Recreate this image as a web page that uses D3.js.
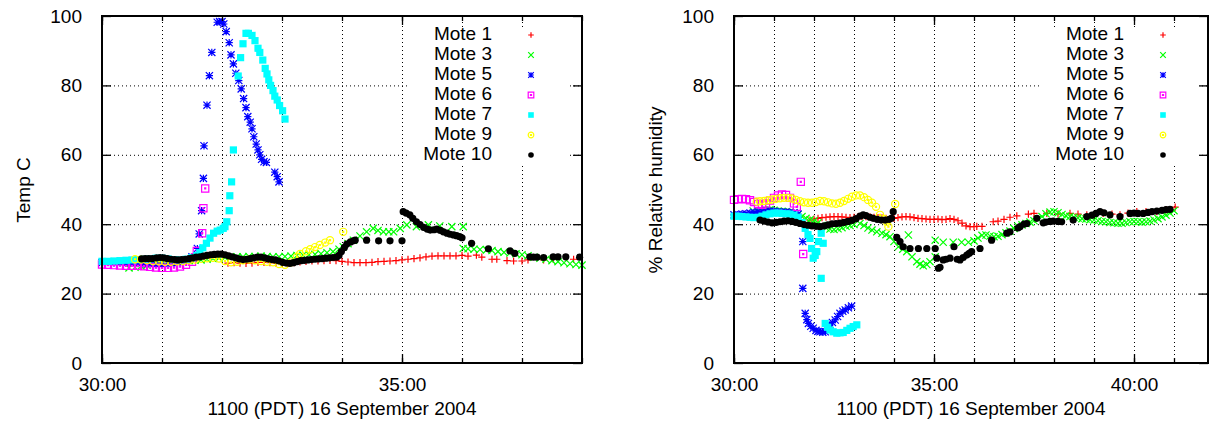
<!DOCTYPE html>
<html>
<head>
<meta charset="utf-8">
<script src="https://cdn.jsdelivr.net/npm/d3@7"></script>
<style>
  body { margin: 0; background: #fff; }
  text { font-family: "Liberation Sans", Arial, sans-serif; font-size: 19px; fill: #000; }
</style>
</head>
<body>
<div id="chart"></div>
<script>
// legend names, one per mote
const moteNames = ["Mote 1", "Mote 3", "Mote 5", "Mote 6", "Mote 7", "Mote 9", "Mote 10"];
const yTicks = [0, 20, 40, 60, 80, 100];

// temperature, [minute past 11:00, deg C]
const tempMote1 = [[32.1,28.8],[32.2,28.9],[32.3,28.8],[32.4,28.7],[32.5,28.8],[32.6,29.0],[32.7,29.0],[32.8,28.9],[32.9,28.8],[33.0,28.6],[33.1,28.7],[33.2,28.9],[33.3,29.1],[33.4,29.3],[33.5,29.4],[33.6,29.4],[33.7,29.5],[33.8,29.6],[33.9,29.5],[34.0,29.3],[34.1,29.1],[34.2,28.9],[34.3,28.9],[34.4,28.9],[34.5,29.0],[34.6,29.2],[34.7,29.3],[34.8,29.4],[34.9,29.5],[35.0,29.7],[35.1,29.9],[35.2,30.1],[35.3,30.3],[35.4,30.6],[35.5,30.8],[35.6,30.9],[35.7,30.9],[35.8,30.9],[35.9,30.9],[36.0,31.0],[36.1,30.8],[36.24,31.1],[36.33,30.5],[36.5,29.9],[36.58,29.9],[36.75,29.5],[36.86,29.4],[37.0,29.4],[37.1,29.7],[37.36,29.7],[37.52,29.9],[37.86,29.9]];
const tempMote3 = [[30.45,27.4],[30.55,27.6],[30.65,27.9],[30.75,28.2],[30.85,28.5],[30.95,28.8],[31.05,29.0],[31.15,29.2],[31.25,29.3],[31.35,29.4],[31.45,29.5],[31.55,29.6],[31.65,29.7],[31.75,29.9],[31.85,30.1],[31.95,30.3],[32.05,30.4],[32.15,30.5],[32.25,30.6],[32.35,30.6],[32.45,30.7],[32.55,30.7],[32.65,30.8],[32.75,30.7],[32.85,30.6],[32.95,30.6],[33.05,30.7],[33.15,30.8],[33.25,31.0],[33.35,31.1],[33.45,31.2],[33.55,31.3],[33.65,31.5],[33.75,31.8],[33.85,32.1],[33.95,32.8],[34.02,33.5],[34.1,34.4],[34.19,35.4],[34.3,36.6],[34.41,37.8],[34.52,38.8],[34.6,38.2],[34.69,37.8],[34.78,37.8],[34.86,37.8],[34.97,38.8],[35.08,39.8],[35.24,39.3],[35.44,39.8],[35.63,39.5],[35.83,39.3],[36.02,39.3],[36.02,33.0],[36.1,32.9],[36.2,32.8],[36.3,32.7],[36.41,32.6],[36.5,32.4],[36.6,32.1],[36.7,31.9],[36.8,31.7],[36.9,31.5],[37.0,31.2],[37.1,30.9],[37.2,30.5],[37.3,30.2],[37.4,29.9],[37.5,29.5],[37.6,29.2],[37.7,28.9],[37.8,28.6],[37.9,28.4],[38.0,28.2]];
const tempMote5 = [[30.0,28.9],[30.1,28.9],[30.2,28.8],[30.3,28.8],[30.4,28.7],[30.5,28.7],[30.6,28.6],[30.7,28.5],[30.8,28.4],[30.9,28.3],[31.0,28.3],[31.1,28.4],[31.2,28.6],[31.3,28.9],[31.4,29.4],[31.5,30.6],[31.59,33.0],[31.62,37.2],[31.66,43.9],[31.69,53.2],[31.70,62.6],[31.75,74.3],[31.79,82.8],[31.83,89.5],[31.92,98.2],[31.96,98.4],[32.0,98.4],[32.03,97.7],[32.07,95.5],[32.12,92.3],[32.15,88.8],[32.19,86.2],[32.23,83.5],[32.28,81.4],[32.32,79.0],[32.36,76.2],[32.4,73.6],[32.43,71.0],[32.47,69.4],[32.5,67.5],[32.53,65.2],[32.57,63.1],[32.6,61.4],[32.63,60.0],[32.66,58.7],[32.7,58.0],[32.74,57.8],[32.88,55.0],[32.92,53.7],[32.95,52.2]];
const tempMote6 = [[30.0,28.4],[30.1,28.3],[30.2,28.2],[30.3,28.1],[30.4,28.0],[30.5,28.0],[30.6,28.0],[30.7,27.9],[30.8,27.7],[30.9,27.5],[31.0,27.4],[31.1,27.4],[31.2,27.5],[31.3,27.8],[31.4,28.3],[31.5,29.2],[31.55,30.5],[31.58,32.3],[31.67,37.4],[31.69,44.6],[31.72,50.3]];
const tempMote7 = [[30.0,29.3],[30.1,29.3],[30.2,29.4],[30.3,29.5],[30.4,29.6],[30.5,29.7],[30.6,29.8],[30.7,29.9],[30.8,30.0],[30.9,30.2],[31.0,30.2],[31.1,30.0],[31.2,29.8],[31.3,29.7],[31.4,29.9],[31.5,30.4],[31.58,31.0],[31.63,31.8],[31.68,33.2],[31.74,34.5],[31.8,36.0],[31.86,37.4],[31.92,38.0],[31.97,38.3],[32.02,38.8],[32.05,39.3],[32.08,40.7],[32.12,43.9],[32.13,48.2],[32.16,52.2],[32.19,61.4],[32.27,82.7],[32.31,88.0],[32.35,92.0],[32.4,95.0],[32.44,95.0],[32.5,94.4],[32.55,92.9],[32.6,90.7],[32.63,89.5],[32.68,87.3],[32.72,84.9],[32.75,83.3],[32.78,81.6],[32.81,80.0],[32.85,78.5],[32.88,76.9],[32.92,75.8],[32.96,74.2],[33.01,72.7],[33.05,70.3]];
const tempMote9 = [[30.55,29.9],[30.65,29.8],[30.75,29.6],[30.85,29.4],[30.95,29.3],[31.05,29.2],[31.15,29.2],[31.25,29.3],[31.35,29.4],[31.45,29.6],[31.55,29.8],[31.65,30.0],[31.75,30.2],[31.85,30.3],[31.95,30.1],[32.05,29.4],[32.15,29.0],[32.25,29.2],[32.35,29.6],[32.45,29.8],[32.55,29.6],[32.65,29.4],[32.75,29.2],[32.85,29.0],[32.95,28.5],[33.05,28.3],[33.15,29.0],[33.25,30.6],[33.3,31.4],[33.4,32.2],[33.47,32.8],[33.55,33.4],[33.63,34.0],[33.72,34.7],[33.8,35.4],[34.02,37.8]];
const tempMote10 = [[30.66,30.0],[30.72,30.1],[30.78,30.1],[30.84,30.1],[30.91,30.3],[30.97,30.4],[31.03,30.3],[31.09,30.1],[31.15,29.9],[31.21,29.8],[31.27,29.7],[31.33,29.8],[31.39,29.9],[31.45,30.1],[31.51,30.3],[31.57,30.5],[31.63,30.6],[31.69,30.8],[31.75,31.0],[31.81,31.2],[31.87,31.3],[31.93,31.4],[31.99,31.4],[32.05,31.2],[32.11,30.9],[32.17,30.6],[32.23,30.3],[32.29,30.0],[32.35,29.8],[32.41,29.9],[32.47,30.1],[32.53,30.3],[32.59,30.5],[32.65,30.5],[32.71,30.3],[32.77,30.0],[32.83,29.8],[32.89,29.7],[32.95,29.4],[33.01,29.0],[33.07,28.8],[33.13,28.7],[33.19,28.9],[33.25,29.2],[33.31,29.5],[33.37,29.6],[33.43,29.7],[33.49,29.8],[33.55,29.9],[33.61,30.0],[33.67,30.1],[33.73,30.2],[33.79,30.3],[33.85,30.4],[33.91,30.5],[33.95,31.0],[33.99,32.1],[34.04,33.3],[34.08,34.3],[34.14,34.9],[34.19,35.2],[34.22,35.4],[34.41,35.4],[34.61,35.2],[34.8,35.2],[35.0,35.2],[35.02,43.6],[35.07,43.2],[35.13,42.7],[35.18,41.7],[35.24,40.7],[35.3,39.9],[35.36,39.1],[35.42,38.6],[35.47,38.3],[35.53,38.4],[35.58,38.6],[35.64,38.2],[35.69,37.8],[35.75,37.4],[35.8,37.1],[35.86,36.9],[35.91,36.7],[35.96,36.4],[36.0,36.1],[36.16,34.5],[36.44,32.9],[36.8,32.3],[36.88,31.6],[37.13,30.6],[37.19,30.5],[37.25,30.5],[37.36,30.4],[37.52,30.6],[37.6,30.6],[37.73,30.6],[37.96,30.5]];

// relative humidity, [minute past 11:00, %]
const humMote1 = [[31.9,41.2],[32.0,41.5],[32.1,41.7],[32.2,41.9],[32.3,42.0],[32.4,42.1],[32.5,42.2],[32.6,42.2],[32.7,42.1],[32.8,42.0],[32.9,41.9],[33.0,42.0],[33.1,42.1],[33.2,42.2],[33.3,42.2],[33.4,42.1],[33.5,42.0],[33.6,41.9],[33.7,41.8],[33.8,41.7],[33.9,41.6],[34.0,41.7],[34.1,41.9],[34.2,42.1],[34.3,42.2],[34.4,42.1],[34.5,41.9],[34.6,41.7],[34.7,41.6],[34.8,41.5],[34.9,41.4],[35.0,41.4],[35.1,41.5],[35.2,41.3],[35.3,41.4],[35.4,41.6],[35.5,41.4],[35.6,41.0],[35.7,40.3],[35.8,39.5],[35.9,39.3],[36.0,39.3],[36.07,39.4],[36.2,39.4],[36.48,40.7],[36.6,40.9],[36.75,41.4],[36.9,42.0],[37.07,42.4],[37.36,42.9],[37.5,43.1],[37.82,43.1],[38.1,43.0],[38.4,43.1],[38.6,42.9],[38.82,42.7],[39.0,42.8],[39.23,43.1],[39.45,42.9],[39.65,42.7],[39.85,43.2],[40.07,43.6],[40.3,43.6],[40.57,43.6],[40.8,44.2],[41.03,44.9]];
const humMote3 = [[30.48,43.8],[30.6,43.9],[30.7,44.0],[30.8,44.1],[30.9,44.2],[31.0,44.0],[31.1,43.8],[31.2,43.7],[31.3,43.6],[31.4,43.5],[31.5,43.3],[31.6,42.8],[31.7,42.2],[31.8,41.7],[31.9,41.3],[32.0,41.0],[32.1,40.4],[32.2,39.6],[32.3,38.9],[32.4,38.6],[32.5,38.5],[32.6,38.7],[32.7,39.0],[32.8,39.4],[32.9,39.6],[33.0,39.9],[33.15,40.2],[33.25,39.6],[33.35,38.9],[33.45,38.3],[33.57,37.8],[33.7,37.4],[33.8,37.0],[33.9,36.4],[34.0,35.0],[34.11,33.5],[34.22,32.8],[34.32,32.1],[34.45,30.6],[34.57,29.2],[34.65,28.5],[34.73,28.0],[34.82,28.4],[34.9,29.2],[35.03,30.6],[34.36,36.9],[35.03,35.4],[35.23,34.8],[35.48,34.8],[35.69,34.8],[35.86,34.8],[36.0,35.2],[36.1,36.0],[36.2,36.8],[36.3,36.9],[36.4,36.6],[36.5,36.4],[36.6,36.5],[36.7,37.0],[36.8,37.5],[36.9,38.0],[37.0,38.8],[37.1,39.4],[37.2,39.8],[37.3,40.2],[37.4,40.6],[37.5,41.0],[37.6,41.5],[37.7,42.2],[37.8,43.0],[37.9,43.5],[38.0,43.6],[38.1,43.3],[38.2,42.8],[38.3,42.4],[38.4,42.2],[38.5,42.0],[38.6,41.8],[38.7,41.6],[38.8,41.5],[38.9,41.3],[39.0,41.2],[39.1,41.0],[39.2,40.8],[39.3,40.7],[39.4,40.5],[39.5,40.4],[39.6,40.3],[39.7,40.3],[39.8,40.5],[39.9,40.7],[40.0,40.8],[40.1,40.7],[40.2,40.6],[40.3,40.7],[40.4,40.9],[40.5,41.2],[40.6,41.6],[40.7,42.1],[40.8,42.6],[40.9,43.2],[41.0,43.9]];
const humMote5 = [[30.0,42.7],[30.1,42.8],[30.2,42.9],[30.3,43.0],[30.4,43.2],[30.5,43.4],[30.6,43.6],[30.7,43.7],[30.8,43.8],[30.9,43.8],[31.0,43.7],[31.1,43.6],[31.2,43.5],[31.3,43.5],[31.4,43.4],[31.5,43.3],[31.6,42.9],[31.72,35.0],[31.72,21.5],[31.78,14.3],[31.82,12.5],[31.86,11.4],[31.92,10.6],[31.98,10.0],[32.05,9.4],[32.1,9.1],[32.15,9.0],[32.22,8.9],[32.28,9.0],[32.34,10.0],[32.4,11.0],[32.46,11.7],[32.53,12.4],[32.59,13.4],[32.65,14.3],[32.72,14.9],[32.78,15.3],[32.86,15.9],[32.94,16.4]];
const humMote6 = [[30.0,47.0],[30.1,47.2],[30.2,47.3],[30.3,47.2],[30.4,46.9],[30.5,46.4],[30.6,45.8],[30.7,45.6],[30.8,46.0],[30.9,46.8],[31.0,47.6],[31.1,48.3],[31.2,48.6],[31.3,48.4],[31.4,47.6],[31.5,46.0],[31.57,45.0],[31.67,52.2],[31.73,31.4]];
const humMote7 = [[30.0,42.3],[30.1,42.3],[30.2,42.2],[30.3,42.1],[30.4,42.0],[30.5,41.9],[30.6,42.0],[30.7,42.3],[30.8,42.7],[30.9,43.0],[31.0,43.2],[31.1,43.2],[31.2,43.1],[31.3,43.0],[31.4,42.9],[31.5,42.6],[31.6,42.0],[31.7,40.5],[31.78,38.8],[31.85,37.0],[31.9,35.9],[31.94,33.0],[31.98,30.2],[32.03,31.0],[32.07,32.1],[32.11,35.0],[32.18,37.4],[32.23,34.5],[32.18,24.4],[32.28,11.4],[32.34,10.3],[32.4,9.5],[32.48,9.0],[32.57,8.6],[32.65,8.7],[32.73,8.8],[32.82,9.4],[32.9,10.0],[32.98,10.5],[33.07,11.0]];
const humMote9 = [[30.57,46.5],[30.65,46.6],[30.75,46.7],[30.85,46.9],[30.95,47.1],[31.05,47.3],[31.15,47.5],[31.25,47.6],[31.35,47.6],[31.45,47.4],[31.55,47.0],[31.65,46.6],[31.75,46.3],[31.85,46.2],[31.95,46.2],[32.05,46.4],[32.15,46.7],[32.25,46.6],[32.35,46.3],[32.45,46.0],[32.55,45.9],[32.65,46.2],[32.75,46.7],[32.85,47.3],[32.95,47.9],[33.05,48.3],[33.15,48.3],[33.25,47.8],[33.35,47.0],[33.45,46.2],[33.55,45.0],[33.65,42.7],[33.75,41.5],[33.82,40.7],[33.86,39.3],[34.03,45.8]];
const humMote10 = [[30.65,41.2],[30.75,40.9],[30.85,40.6],[30.95,40.4],[31.05,40.5],[31.15,40.7],[31.25,40.9],[31.35,41.0],[31.45,40.8],[31.55,40.5],[31.65,40.2],[31.75,39.9],[31.85,39.7],[31.95,39.5],[32.05,39.4],[32.15,39.3],[32.25,39.5],[32.35,39.8],[32.45,40.1],[32.55,40.2],[32.65,40.3],[32.75,40.5],[32.85,40.8],[32.95,41.1],[33.05,41.6],[33.15,42.3],[33.23,42.7],[33.3,42.5],[33.4,42.0],[33.48,41.7],[33.58,41.4],[33.68,41.2],[33.78,41.2],[33.88,41.4],[33.94,41.7],[33.98,43.6],[34.07,36.2],[34.15,35.0],[34.23,33.5],[34.4,33.0],[34.61,33.0],[34.82,33.0],[35.03,33.0],[35.07,30.2],[35.11,27.3],[35.15,27.6],[35.23,29.7],[35.3,29.9],[35.4,30.2],[35.5,33.5],[35.58,29.9],[35.65,29.7],[35.73,30.4],[35.82,31.1],[35.88,31.6],[35.94,32.1],[36.15,33.0],[36.44,35.4],[36.82,37.4],[36.9,37.8],[37.1,38.9],[37.15,39.3],[37.25,40.0],[37.32,40.2],[37.57,41.7],[37.73,40.4],[37.8,40.6],[37.9,40.8],[37.98,40.9],[38.1,40.8],[38.19,40.7],[38.48,41.2],[38.82,42.2],[38.95,42.6],[39.05,43.1],[39.15,43.6],[39.25,43.3],[39.4,42.7],[39.65,42.2],[39.9,43.1],[40.0,43.2],[40.1,43.1],[40.23,43.1],[40.35,43.4],[40.45,43.6],[40.57,43.8],[40.7,44.0],[40.8,44.2],[40.9,44.3]];

const styles = [
  { kind: "plus", color: "#ff0000" },
  { kind: "cross", color: "#00ff00" },
  { kind: "star", color: "#0000ff" },
  { kind: "box", color: "#ff00ff" },
  { kind: "fbox", color: "#00ffff" },
  { kind: "circle", color: "#ffff00" },
  { kind: "fcircle", color: "#000000" }
];

const W = 1210, H = 427;
const svg = d3.select("#chart").append("svg")
  .attr("width", W).attr("height", H)
  .attr("viewBox", [0, 0, W, H]);

function markPath(kind, s) {
  switch (kind) {
    case "plus": return `M${-s},0H${s}M0,${-s}V${s}`;
    case "cross": return `M${-s},${-s}L${s},${s}M${-s},${s}L${s},${-s}`;
    case "star": return `M${-s},0H${s}M0,${-s}V${s}M${-s},${-s}L${s},${s}M${-s},${s}L${s},${-s}`;
    case "box": return `M${-s},${-s}H${s}V${s}H${-s}ZM-0.5,-0.5h1v1h-1Z`;
    case "fbox": return `M${-s},${-s}H${s}V${s}H${-s}Z`;
    case "circle": return `M${s},0A${s},${s} 0 1,1 ${-s},0A${s},${s} 0 1,1 ${s},0ZM-0.5,-0.5h1v1h-1Z`;
    case "fcircle": return `M${s},0A${s},${s} 0 1,1 ${-s},0A${s},${s} 0 1,1 ${s},0Z`;
  }
}

function styleMark(sel, st) {
  const filled = st.kind === "fbox" || st.kind === "fcircle";
  sel.attr("fill", filled ? st.color : "none")
    .attr("stroke", filled ? "none" : st.color)
    .attr("stroke-width", 1.2);
}

function drawPanel(p) {
  const x = d3.scaleLinear().domain(p.xDomain).range([p.left, p.right]);
  const y = d3.scaleLinear().domain([0, 100]).range([363, 16]);
  const g = svg.append("g");
  const minutes = d3.range(Math.ceil(p.xDomain[0]), Math.floor(p.xDomain[1]) + 1);
  const majors = minutes.filter(m => m % 5 === 0);

  // dotted grid
  const grid = g.append("g").attr("stroke", "#000").attr("stroke-width", 1)
    .attr("stroke-dasharray", "1,3");
  grid.selectAll(".gx").data(minutes.filter(m => m > p.xDomain[0] && m < p.xDomain[1]))
    .join("line").attr("x1", d => x(d) + 0.5).attr("x2", d => x(d) + 0.5)
    .attr("y1", y(0)).attr("y2", y(100));
  grid.selectAll(".gy").data(yTicks.slice(1, -1))
    .join("line").attr("y1", d => y(d) + 0.5).attr("y2", d => y(d) + 0.5)
    .attr("x1", p.left).attr("x2", p.right);

  // key box hides the grid behind it
  g.append("rect").attr("x", p.keyBox[0]).attr("y", 27)
    .attr("width", p.keyBox[1] - p.keyBox[0]).attr("height", 138).attr("fill", "#fff");

  // data
  p.series.forEach((data, i) => {
    const st = styles[i];
    g.append("g").call(styleMark, st)
      .selectAll("path").data(data).join("path")
      .attr("transform", d => `translate(${x(d[0])},${y(d[1])})`)
      .attr("d", markPath(st.kind, 3.6));
  });

  // axes: ticks inward on all sides
  const fmt = m => `${m}:00`;
  g.append("g").attr("transform", `translate(0,${y(0)})`)
    .call(d3.axisBottom(x).tickValues(minutes).tickSize(-5).tickFormat(""));
  g.append("g").attr("transform", `translate(0,${y(0)})`)
    .call(d3.axisBottom(x).tickValues(majors).tickSize(-9).tickPadding(15).tickFormat(fmt));
  g.append("g").attr("transform", `translate(0,${y(100)})`)
    .call(d3.axisTop(x).tickValues(minutes).tickSize(-5).tickFormat(""));
  g.append("g").attr("transform", `translate(0,${y(100)})`)
    .call(d3.axisTop(x).tickValues(majors).tickSize(-9).tickFormat(""));
  g.append("g").attr("transform", `translate(${p.left},0)`)
    .call(d3.axisLeft(y).tickValues(yTicks).tickSize(-9).tickPadding(20));
  g.append("g").attr("transform", `translate(${p.right},0)`)
    .call(d3.axisRight(y).tickValues(yTicks).tickSize(-9).tickFormat(""));
  g.selectAll(".domain").remove();
  g.selectAll(".tick line").attr("stroke", "#000").attr("stroke-width", 1.3);
  g.selectAll(".tick text").attr("font-size", 19).attr("font-family", null);

  // frame
  g.append("rect").attr("x", p.left).attr("y", y(100))
    .attr("width", p.right - p.left).attr("height", y(0) - y(100))
    .attr("fill", "none").attr("stroke", "#000").attr("stroke-width", 2);

  // titles
  g.append("text").attr("x", (p.left + p.right) / 2).attr("y", 410)
    .attr("text-anchor", "middle").attr("dominant-baseline", "middle").text(p.xTitle);
  g.append("text").attr("transform", `translate(${p.yTitleX},190) rotate(-90)`)
    .attr("text-anchor", "middle").attr("dominant-baseline", "middle").text(p.yTitle);

  // key
  const key = g.append("g");
  moteNames.forEach((name, i) => {
    const ky = 35 + i * 20;
    key.append("text").attr("x", p.keyText).attr("y", ky)
      .attr("text-anchor", "end").attr("dominant-baseline", "middle").text(name);
    key.append("path").call(styleMark, styles[i])
      .attr("transform", `translate(${p.keyText + 39},${ky})`)
      .attr("d", markPath(styles[i].kind, 2.8));
  });
}

drawPanel({
  left: 102, right: 582, xDomain: [30, 38],
  series: [tempMote1, tempMote3, tempMote5, tempMote6, tempMote7, tempMote9, tempMote10],
  xTitle: "1100 (PDT) 16 September 2004", yTitle: "Temp C", yTitleX: 25,
  keyText: 492, keyBox: [407, 570]
});
drawPanel({
  left: 734, right: 1208, xDomain: [30, 41.85],
  series: [humMote1, humMote3, humMote5, humMote6, humMote7, humMote9, humMote10],
  xTitle: "1100 (PDT) 16 September 2004", yTitle: "% Relative humidity", yTitleX: 657,
  keyText: 1124, keyBox: [1040, 1200]
});
</script>
</body>
</html>
